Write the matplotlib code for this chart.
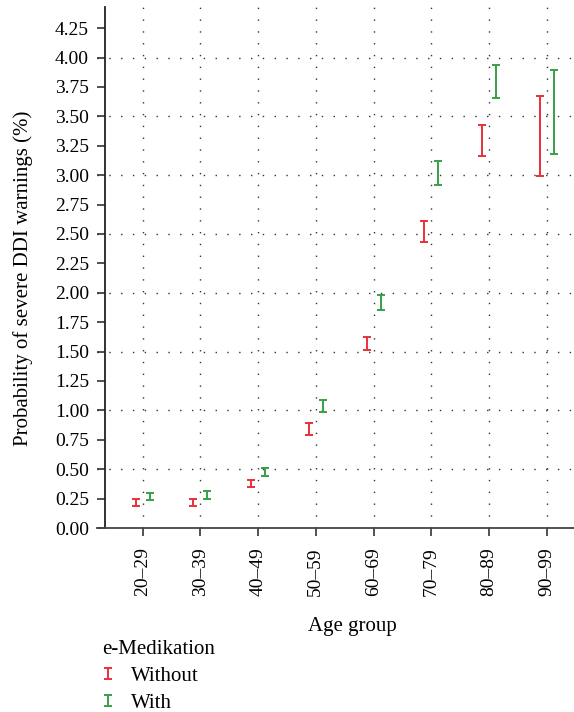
import numpy as np
import matplotlib
matplotlib.use("Agg")
import matplotlib.pyplot as plt
from matplotlib.container import ErrorbarContainer
from matplotlib.legend_handler import HandlerErrorbar

plt.rcParams["font.family"] = ["Liberation Serif", "DejaVu Serif"]
plt.rcParams["font.size"] = 14

age_groups = ["20\u201329", "30\u201339", "40\u201349", "50\u201359",
              "60\u201369", "70\u201379", "80\u201389", "90\u201399"]

# 95% interval bounds, probability of severe DDI warnings (%)
without_low = [0.19, 0.19, 0.35, 0.795, 1.51, 2.43, 3.16, 2.99]
without_high = [0.25, 0.245, 0.41, 0.89, 1.62, 2.61, 3.43, 3.67]
with_low = [0.24, 0.25, 0.44, 0.985, 1.85, 2.92, 3.66, 3.18]
with_high = [0.30, 0.315, 0.51, 1.085, 1.98, 3.12, 3.94, 3.89]

red = "#e8313c"
green = "#38a047"

fig = plt.figure(figsize=(5.74, 7.12), dpi=100)
ax = fig.add_axes([0.169, 0.2584, 0.831, 0.7318])

x = np.arange(len(age_groups))
offset = 0.12


def draw(xpos, low, high, color, label):
    low = np.array(low)
    high = np.array(high)
    mid = (low + high) / 2
    return ax.errorbar(xpos, mid, yerr=[mid - low, high - mid], fmt="none",
                       ecolor=color, elinewidth=1.4, capsize=3.2,
                       capthick=1.4, label=label)


h1 = draw(x - offset, without_low, without_high, red, "Without")
h2 = draw(x + offset, with_low, with_high, green, "With")

ax.set_xlim(-0.79, 7.47)
ax.set_ylim(0, 4.43)
ax.set_xticks(x)
ax.set_xticklabels(age_groups, rotation=90)
yt = np.arange(0, 4.26, 0.25)
ax.set_yticks(yt)
ax.set_yticklabels([f"{v:.2f}" for v in yt])
ax.yaxis.remove_overlapping_locs = False
ax.set_yticks(np.arange(0.5, 4.01, 0.5), minor=True)

ax.tick_params(axis="both", which="major", direction="out", length=6,
               width=1.2, color="#333333", labelsize=14)
ax.tick_params(axis="x", which="major", pad=8)
ax.tick_params(axis="y", which="major", pad=5.5)
ax.tick_params(axis="y", which="minor", length=0)

dots = (0, (1, 7.5))
ax.grid(axis="x", which="major", linestyle=dots, color="#333333",
        linewidth=1.0)
ax.grid(axis="y", which="minor", linestyle=dots, color="#333333",
        linewidth=1.0)
ax.set_axisbelow(True)

for side in ["top", "right"]:
    ax.spines[side].set_visible(False)
ax.spines["left"].set_position(("axes", 8 / 477))
ax.spines["left"].set_linewidth(1.3)
ax.spines["bottom"].set_linewidth(1.3)
ax.spines["left"].set_color("#222222")
ax.spines["bottom"].set_color("#444444")

ax.set_ylabel("Probability of severe DDI warnings (%)", fontsize=15)
ax.yaxis.set_label_coords(-0.135, 0.48)
ax.set_xlabel("Age group", fontsize=15)
ax.xaxis.set_label_coords(0.535, -0.17)

leg = fig.legend(handles=[h1, h2], labels=["Without", "With"],
                 title="e-Medikation", loc="upper left",
                 bbox_to_anchor=(0.178, 0.101), frameon=False,
                 fontsize=15, title_fontsize=15, handlelength=0.6,
                 handletextpad=0.8, labelspacing=0.35, alignment="left",
                 borderaxespad=0, borderpad=0,
                 handler_map={ErrorbarContainer: HandlerErrorbar(yerr_size=0.27)})

fig.savefig("out.png", dpi=100)
